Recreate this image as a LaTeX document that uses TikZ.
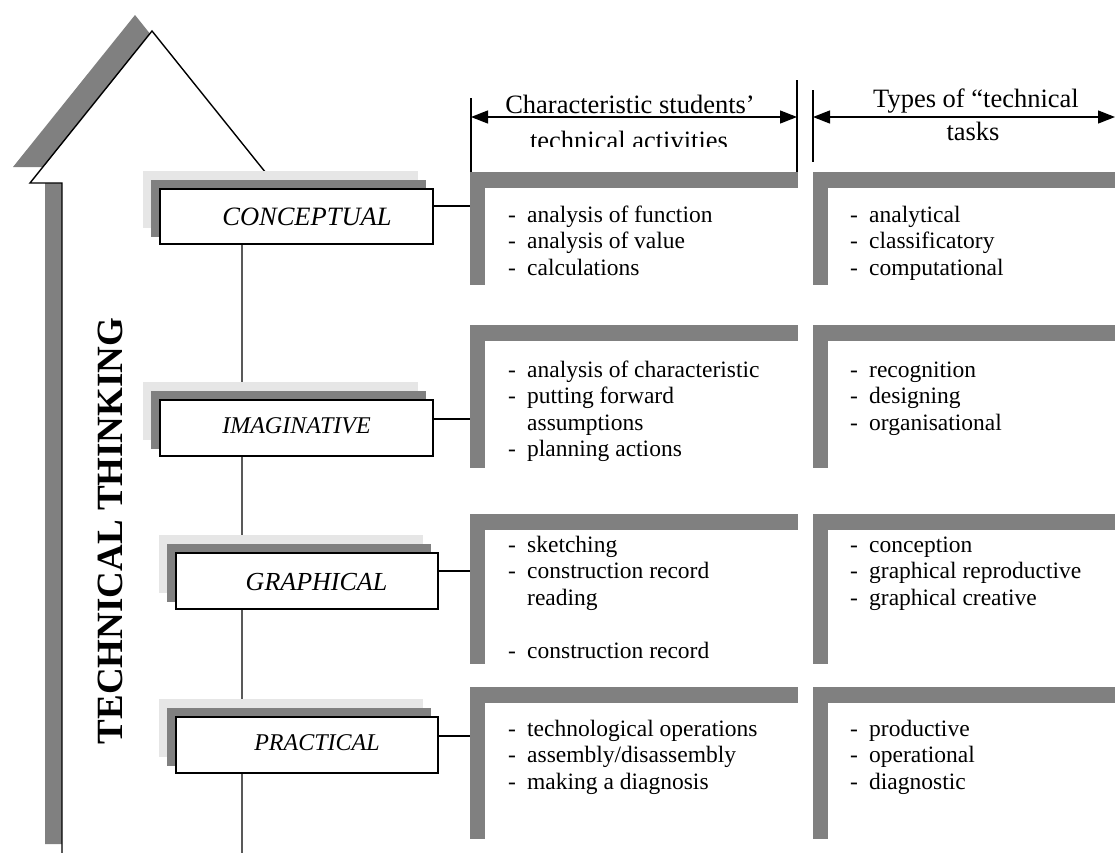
\documentclass[tikz,border=0pt]{standalone}
\usepackage{fontspec}
\setmainfont{Liberation Serif}
\usetikzlibrary{arrows.meta}
\definecolor{dgray}{RGB}{128,128,128}
\definecolor{lgray}{RGB}{230,230,230}
\newcommand\dashitem[1]{\makebox[19pt][l]{-}#1}
\newcommand\contitem[1]{\hspace*{19pt}#1}
\newcommand\lvlbox[5]{%
  \fill[lgray] (#2-17,#3-18) rectangle (#4-15,#5-16);
  \fill[dgray] (#2-9,#3-9) rectangle (#4-7,#5-7);
  \node[lvlbox, minimum width={#4-#2}, minimum height={#5-#3}] (#1) at ({(#2+#4)/2},{(#3+#5)/2}) {};
}
\newcommand\panelL[4]{%
  \fill[dgray] (#1,#2) rectangle (#3,#2+16);
  \fill[dgray] (#1,#2) rectangle (#1+15,#4);
}
\begin{document}
\begin{tikzpicture}[x=1pt,y=-1pt,
  lvlbox/.style={draw=black, line width=1.8pt, fill=white, inner sep=0pt, outer sep=0pt},
  lbl/.style={anchor=base, inner sep=0pt},
  ptxt/.style={anchor=base west, inner sep=0pt, font=\fontsize{23.5}{26.5}\selectfont},
  hdrtxt/.style={anchor=base, inner sep=0pt, font=\fontsize{26.5}{30}\selectfont},
  conn/.style={line width=1.3pt},
  hdrarrow/.style={line width=1.3pt, {Triangle[length=17pt,width=13pt]}-{Triangle[length=17pt,width=13pt]}}
]
\useasboundingbox (0,0) rectangle (1115,852);
\fill[white] (0,0) rectangle (1115,852);

% big arrow with shadow
\fill[dgray] (135,15) -- (257,167) -- (225,167) -- (225,844) -- (45,844) -- (45,167) -- (13,167) -- cycle;
\draw[line width=1.4pt, fill=white] (152,31) -- (274,183) -- (242,183) -- (242,880) -- (62,880) -- (62,183) -- (30,183) -- cycle;

\node[rotate=90, inner sep=0pt, font=\fontsize{37}{40}\selectfont\bfseries] (tt) at (110.5,531) {TECHNICAL THINKING};

% level boxes
\lvlbox{c1}{160}{189}{433}{244}
\lvlbox{c2}{160}{400}{433}{456}
\lvlbox{c3}{176}{553}{438}{609}
\lvlbox{c4}{176}{717}{438}{773}
\node[lbl, font=\fontsize{26.5}{30}\selectfont\itshape] (t1) at (307,225) {CONCEPTUAL};
\node[lbl, font=\fontsize{24}{28}\selectfont\itshape] (t2) at (296.5,433) {IMAGINATIVE};
\node[lbl, font=\fontsize{26}{30}\selectfont\itshape] (t3) at (316.5,590) {GRAPHICAL};
\node[lbl, font=\fontsize{24}{28}\selectfont\itshape] (t4) at (317,750) {PRACTICAL};

% panels
\panelL{470}{172}{798}{285}
\panelL{813}{172}{1115}{285}
\panelL{470}{325}{798}{468}
\panelL{813}{325}{1115}{468}
\panelL{470}{514}{798}{664}
\panelL{813}{514}{1115}{664}
\panelL{470}{687}{798}{839}
\panelL{813}{687}{1115}{839}

% connectors
\coordinate (p1) at (470,206);
\coordinate (p2) at (470,419);
\coordinate (p3) at (470,571);
\coordinate (p4) at (470,736);
\draw[conn] (c1.east |- p1) -- (p1);
\draw[conn] (c2.east |- p2) -- (p2);
\draw[conn] (c3.east |- p3) -- (p3);
\draw[conn] (c4.east |- p4) -- (p4);

% headers
\coordinate (h1a) at (471,98);  \coordinate (h1b) at (471,172);
\coordinate (h1c) at (797,80);  \coordinate (h1d) at (797,172);
\coordinate (h2a) at (813,90);  \coordinate (h2b) at (813,162);
\coordinate (a1l) at (471,117); \coordinate (a1r) at (797,117);
\coordinate (a2l) at (813,117); \coordinate (a2r) at (1115,117);
\draw[conn] (h1a) -- (h1b);
\draw[conn] (h1c) -- (h1d);
\draw[conn] (h2a) -- (h2b);
\node[hdrtxt] (hd1) at (630,113) {Characteristic students’};
\begin{scope}
  \clip (471,120) rectangle (797,146);
  \node[hdrtxt] (hd2) at (629,149) {technical activities};
\end{scope}
\node[hdrtxt] (hd3) at (976,107) {Types of “technical};
\node[hdrtxt] (hd4) at (973,140) {tasks};
\draw[hdrarrow] (a1l) -- (a1r);
\draw[hdrarrow] (a2l) -- (a2r);

% panel texts
\node[ptxt] (r1a) at (508,222) {\dashitem{analysis of function}};
\node[ptxt] (r1b) at (508,248.5) {\dashitem{analysis of value}};
\node[ptxt] (r1c) at (508,275) {\dashitem{calculations}};
\node[ptxt] (s1a) at (850,222) {\dashitem{analytical}};
\node[ptxt] (s1b) at (850,248.5) {\dashitem{classificatory}};
\node[ptxt] (s1c) at (850,275) {\dashitem{computational}};

\node[ptxt] (r2a) at (508,377) {\dashitem{analysis of characteristic}};
\node[ptxt] (r2b) at (508,403.5) {\dashitem{putting forward}};
\node[ptxt] (r2c) at (508,430) {\contitem{assumptions}};
\node[ptxt] (r2d) at (508,456.5) {\dashitem{planning actions}};
\node[ptxt] (s2a) at (850,377) {\dashitem{recognition}};
\node[ptxt] (s2b) at (850,403.5) {\dashitem{designing}};
\node[ptxt] (s2c) at (850,430) {\dashitem{organisational}};

\node[ptxt] (r3a) at (508,552) {\dashitem{sketching}};
\node[ptxt] (r3b) at (508,578.5) {\dashitem{construction record}};
\node[ptxt] (r3c) at (508,605) {\contitem{reading}};
\node[ptxt] (r3d) at (508,658) {\dashitem{construction record}};
\node[ptxt] (s3a) at (850,552) {\dashitem{conception}};
\node[ptxt] (s3b) at (850,578.5) {\dashitem{graphical reproductive}};
\node[ptxt] (s3c) at (850,605) {\dashitem{graphical creative}};

\node[ptxt] (r4a) at (508,736) {\dashitem{technological operations}};
\node[ptxt] (r4b) at (508,762.5) {\dashitem{assembly/disassembly}};
\node[ptxt] (r4c) at (508,789) {\dashitem{making a diagnosis}};
\node[ptxt] (s4a) at (850,736) {\dashitem{productive}};
\node[ptxt] (s4b) at (850,762.5) {\dashitem{operational}};
\node[ptxt] (s4c) at (850,789) {\dashitem{diagnostic}};
\end{tikzpicture}
\end{document}
